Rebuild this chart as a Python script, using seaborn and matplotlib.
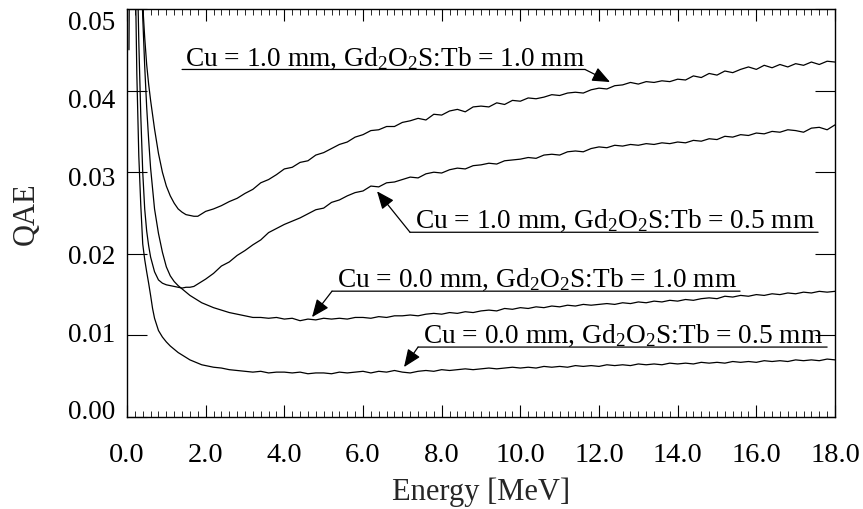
import numpy as np
import pandas as pd
import matplotlib
matplotlib.use("Agg")
import matplotlib.pyplot as plt
import matplotlib.transforms as mtransforms
from matplotlib.ticker import MultipleLocator, FormatStrFormatter
import seaborn as sns

# ---------------- data ----------------
energy_tail = np.round(np.arange(2.0, 18.0001, 0.2), 1)   # MeV grid 2.0 ... 18.0

# Cu = 1.0 mm, Gd2O2S:Tb = 1.0 mm
e_cu10_gd10_head = [0.3, 0.35, 0.4, 0.45, 0.5, 0.55, 0.6, 0.7, 0.8, 0.9,
                    1.0, 1.1, 1.2, 1.3, 1.4, 1.5, 1.6, 1.7, 1.8, 1.9]
q_cu10_gd10_head = [0.064, 0.056, 0.0505, 0.0465, 0.0432, 0.0408, 0.0388, 0.0353, 0.0323, 0.0300,
                    0.0283, 0.0271, 0.0262, 0.0255, 0.0251, 0.0248, 0.0247, 0.0246, 0.0246, 0.0249]
q_cu10_gd10_tail = [
    0.0252, 0.0255, 0.0259, 0.0264, 0.0268, 0.0274, 0.0279, 0.0287, 0.0291, 0.0297,
    0.0304, 0.0306, 0.0312, 0.0314, 0.0321, 0.0324, 0.0329, 0.0334, 0.0337, 0.0343,
    0.0346, 0.0351, 0.0352, 0.0356, 0.0356, 0.0361, 0.0363, 0.0366, 0.0364, 0.0371,
    0.0370, 0.0375, 0.0377, 0.0374, 0.0380, 0.0381, 0.0380, 0.0385, 0.0383, 0.0388,
    0.0387, 0.0391, 0.0390, 0.0392, 0.0395, 0.0394, 0.0397, 0.0398, 0.0397, 0.0401,
    0.0403, 0.0402, 0.0406, 0.0407, 0.0410, 0.0408, 0.0411, 0.0410, 0.0412, 0.0411,
    0.0414, 0.0413, 0.0418, 0.0416, 0.0421, 0.0419, 0.0424, 0.0422, 0.0426, 0.0429,
    0.0426, 0.0431, 0.0428, 0.0432, 0.0429, 0.0433, 0.0431, 0.0435, 0.0432, 0.0436,
    0.0435]

# Cu = 1.0 mm, Gd2O2S:Tb = 0.5 mm
e_cu10_gd05_head = [0.2, 0.25, 0.3, 0.35, 0.4, 0.45, 0.5, 0.55, 0.6, 0.7, 0.8,
                    0.9, 1.0, 1.1, 1.2, 1.3, 1.4, 1.5, 1.6, 1.7, 1.8, 1.9]
q_cu10_gd05_head = [0.075, 0.058, 0.046, 0.037, 0.030, 0.0255, 0.0228, 0.0210, 0.0196, 0.0178, 0.0168,
                    0.0164, 0.0162, 0.0161, 0.0160, 0.0159, 0.0158, 0.0159, 0.0159, 0.0160, 0.0163, 0.0166]
q_cu10_gd05_tail = [
    0.0169, 0.0176, 0.0185, 0.0190, 0.0198, 0.0204, 0.0211, 0.0217, 0.0226, 0.0231,
    0.0236, 0.0240, 0.0244, 0.0249, 0.0254, 0.0256, 0.0263, 0.0266, 0.0271, 0.0275,
    0.0277, 0.0283, 0.0282, 0.0287, 0.0288, 0.0291, 0.0294, 0.0293, 0.0298, 0.0300,
    0.0299, 0.0303, 0.0305, 0.0304, 0.0308, 0.0309, 0.0311, 0.0310, 0.0314, 0.0315,
    0.0316, 0.0318, 0.0317, 0.0321, 0.0322, 0.0321, 0.0325, 0.0326, 0.0325, 0.0329,
    0.0331, 0.0330, 0.0333, 0.0332, 0.0334, 0.0333, 0.0335, 0.0334, 0.0336, 0.0335,
    0.0337, 0.0336, 0.0339, 0.0338, 0.0341, 0.0340, 0.0344, 0.0343, 0.0346, 0.0345,
    0.0348, 0.0347, 0.0350, 0.0349, 0.0352, 0.0351, 0.0349, 0.0354, 0.0355, 0.0352,
    0.0358]

# Cu = 0.0 mm, Gd2O2S:Tb = 1.0 mm
e_cu00_gd10_head = [0.3, 0.35, 0.4, 0.45, 0.5, 0.55, 0.6, 0.7, 0.8, 0.9,
                    1.0, 1.1, 1.2, 1.3, 1.4, 1.5, 1.6, 1.7, 1.8, 1.9]
q_cu00_gd10_head = [0.068, 0.057, 0.049, 0.043, 0.038, 0.034, 0.0305, 0.0255, 0.0225, 0.0202,
                    0.0184, 0.0173, 0.0166, 0.0161, 0.0157, 0.0153, 0.0149, 0.0146, 0.0143, 0.0140]
q_cu00_gd10_tail = [
    0.0138, 0.0134, 0.0131, 0.0128, 0.0126, 0.0124, 0.0122, 0.0122, 0.0121, 0.0122,
    0.0120, 0.0121, 0.0118, 0.0120, 0.0119, 0.0121, 0.0120, 0.0121, 0.0120, 0.0122,
    0.0122, 0.0121, 0.0123, 0.0122, 0.0124, 0.0124, 0.0125, 0.0124, 0.0126, 0.0127,
    0.0126, 0.0128, 0.0127, 0.0129, 0.0128, 0.0130, 0.0131, 0.0130, 0.0133, 0.0132,
    0.0134, 0.0133, 0.0135, 0.0134, 0.0136, 0.0135, 0.0137, 0.0136, 0.0138, 0.0137,
    0.0138, 0.0139, 0.0138, 0.0140, 0.0139, 0.0141, 0.0140, 0.0142, 0.0141, 0.0143,
    0.0142, 0.0144, 0.0143, 0.0145, 0.0146, 0.0145, 0.0148, 0.0147, 0.0149, 0.0148,
    0.0150, 0.0149, 0.0151, 0.0150, 0.0152, 0.0151, 0.0153, 0.0152, 0.0154, 0.0153,
    0.0154]

# Cu = 0.0 mm, Gd2O2S:Tb = 0.5 mm
e_cu00_gd05_head = [0.05, 0.1, 0.15, 0.2, 0.25, 0.3, 0.35, 0.4, 0.45, 0.5, 0.55, 0.6, 0.65,
                    0.7, 0.8, 0.9, 1.0, 1.1, 1.2, 1.3, 1.4, 1.5, 1.6, 1.7, 1.8, 1.9]
q_cu00_gd05_head = [0.045, 0.085, 0.075, 0.058, 0.042, 0.032, 0.026, 0.0212, 0.0193, 0.0178, 0.0164, 0.0149, 0.0133,
                    0.0121, 0.0106, 0.0098, 0.0092, 0.0087, 0.0083, 0.0079, 0.0076, 0.0073, 0.0070, 0.0068, 0.0066, 0.0064]
q_cu00_gd05_tail = [
    0.0063, 0.0061, 0.0060, 0.0058, 0.0057, 0.0056, 0.0055, 0.0056, 0.0054, 0.0055,
    0.0055, 0.0054, 0.0055, 0.0053, 0.0054, 0.0054, 0.0053, 0.0055, 0.0054, 0.0055,
    0.0056, 0.0054, 0.0056, 0.0055, 0.0057, 0.0055, 0.0054, 0.0056, 0.0057, 0.0056,
    0.0058, 0.0057, 0.0058, 0.0059, 0.0058, 0.0059, 0.0060, 0.0059, 0.0060, 0.0061,
    0.0060, 0.0061, 0.0060, 0.0062, 0.0061, 0.0062, 0.0061, 0.0063, 0.0062, 0.0063,
    0.0062, 0.0064, 0.0063, 0.0064, 0.0063, 0.0065, 0.0064, 0.0065, 0.0064, 0.0066,
    0.0065, 0.0066, 0.0065, 0.0067, 0.0066, 0.0067, 0.0066, 0.0068, 0.0067, 0.0068,
    0.0067, 0.0069, 0.0068, 0.0069, 0.0068, 0.0070, 0.0069, 0.0070, 0.0069, 0.0071,
    0.0070]

x_ticks = [0.0, 2.0, 4.0, 6.0, 8.0, 10.0, 12.0, 14.0, 16.0, 18.0]
y_ticks = [0.00, 0.01, 0.02, 0.03, 0.04, 0.05]

sub = r"$_\mathregular{2}$"
labels = {
    "c1010": "Cu = 1.0 mm, Gd" + sub + "O" + sub + "S:Tb = 1.0 mm",
    "c1005": "Cu = 1.0 mm, Gd" + sub + "O" + sub + "S:Tb = 0.5 mm",
    "c0010": "Cu = 0.0 mm, Gd" + sub + "O" + sub + "S:Tb = 1.0 mm",
    "c0005": "Cu = 0.0 mm, Gd" + sub + "O" + sub + "S:Tb = 0.5 mm",
}

# ---------------- build table ----------------
frames = []
for key, eh, qh, qt in [
    ("c1010", e_cu10_gd10_head, q_cu10_gd10_head, q_cu10_gd10_tail),
    ("c1005", e_cu10_gd05_head, q_cu10_gd05_head, q_cu10_gd05_tail),
    ("c0010", e_cu00_gd10_head, q_cu00_gd10_head, q_cu00_gd10_tail),
    ("c0005", e_cu00_gd05_head, q_cu00_gd05_head, q_cu00_gd05_tail),
]:
    frames.append(pd.DataFrame({
        "energy": list(eh) + list(energy_tail),
        "qae": list(qh) + list(qt),
        "series": key,
    }))
df = pd.concat(frames, ignore_index=True)

# ---------------- style ----------------
sns.set_style("ticks")
plt.rcParams["font.family"] = ["Liberation Serif", "DejaVu Serif"]
plt.rcParams["mathtext.fontset"] = "custom"
plt.rcParams["mathtext.rm"] = "Liberation Serif"
plt.rcParams["mathtext.it"] = "Liberation Serif:italic"
plt.rcParams["mathtext.default"] = "regular"

fig = plt.figure(figsize=(8.63, 5.10), dpi=100)
ax = fig.add_axes([127 / 863, 92 / 510, 708 / 863, 408 / 510])

sns.lineplot(data=df, x="energy", y="qae", units="series", estimator=None,
             sort=False, color="black", linewidth=0.9, ax=ax, legend=False)

ax.set_xlim(0, 18)
ax.set_ylim(0, 0.05)
ax.set_xticks(x_ticks)
ax.set_yticks(y_ticks)
ax.xaxis.set_minor_locator(MultipleLocator(0.2))
ax.xaxis.set_major_formatter(FormatStrFormatter("%.1f"))
ax.yaxis.set_major_formatter(FormatStrFormatter("%.2f"))

for s in ax.spines.values():
    s.set_visible(True)
    s.set_color("black")
    s.set_linewidth(1.0)

ax.tick_params(axis="x", which="major", direction="in", length=8.6, width=0.8,
               top=True, bottom=True, labelsize=20.5, pad=18, colors="black")
ax.tick_params(axis="x", which="minor", direction="in", length=4.3, width=0.7,
               top=True, bottom=True)
ax.tick_params(axis="y", which="major", direction="in", length=14.4, width=0.8,
               left=True, right=True, labelsize=19.5, pad=8.5, colors="black")
ax.tick_params(axis="y", which="minor", left=False, right=False)

ax.set_xlabel("Energy [MeV]", fontsize=22)
ax.set_ylabel("QAE", fontsize=22)
ax.xaxis.set_label_coords(0.5, -0.145)
ax.yaxis.set_label_coords(-0.122, 0.5)

# ---------------- annotations ----------------
ann_fs = 19.7
arrow_kw = dict(arrowstyle="-|>,head_length=0.6,head_width=0.25", color="black", lw=0.9,
                shrinkA=0, shrinkB=0, mutation_scale=18)
line_kw = dict(arrowstyle="-", color="black", lw=0.9, shrinkA=0, shrinkB=0)

# (text_x, text_y, underline_y, x_left, x_right, leader_from_x, tip_x, tip_y)
ann_specs = [
    ("c1010", 1.47, 0.04321, 0.04259, 1.40, 11.645, 11.645, 12.28, 0.04105),
    ("c1005", 7.32, 0.02326, 0.02264, 7.195, 17.57, 7.195, 6.357, 0.02766),
    ("c0010", 5.34, 0.01603, 0.01542, 5.212, 15.586, 5.212, 4.704, 0.01224),
    ("c0005", 7.53, 0.00918, 0.00857, 7.40, 17.80, 7.40, 7.043, 0.00612),
]
for key, tx, ty, uy, xl, xr, lx, ax_tip, ay_tip in ann_specs:
    ax.text(tx, ty, labels[key], fontsize=ann_fs, ha="left", va="baseline", color="black")
    ax.annotate("", xy=(xr, uy), xytext=(xl, uy), arrowprops=line_kw)
    ax.annotate("", xy=(ax_tip, ay_tip), xytext=(lx, uy), arrowprops=arrow_kw)

# y tick labels in the reference are spaced a little tighter than the ticks
for t in ax.yaxis.get_major_ticks():
    v = t.get_loc()
    j = round((0.05 - v) / 0.01)
    dy_px = -(10.5 - 3.7 * j)
    off = mtransforms.ScaledTranslation(0, dy_px / 100.0, fig.dpi_scale_trans)
    t.label1.set_transform(t.label1.get_transform() + off)

fig.savefig("out.png", dpi=100)
